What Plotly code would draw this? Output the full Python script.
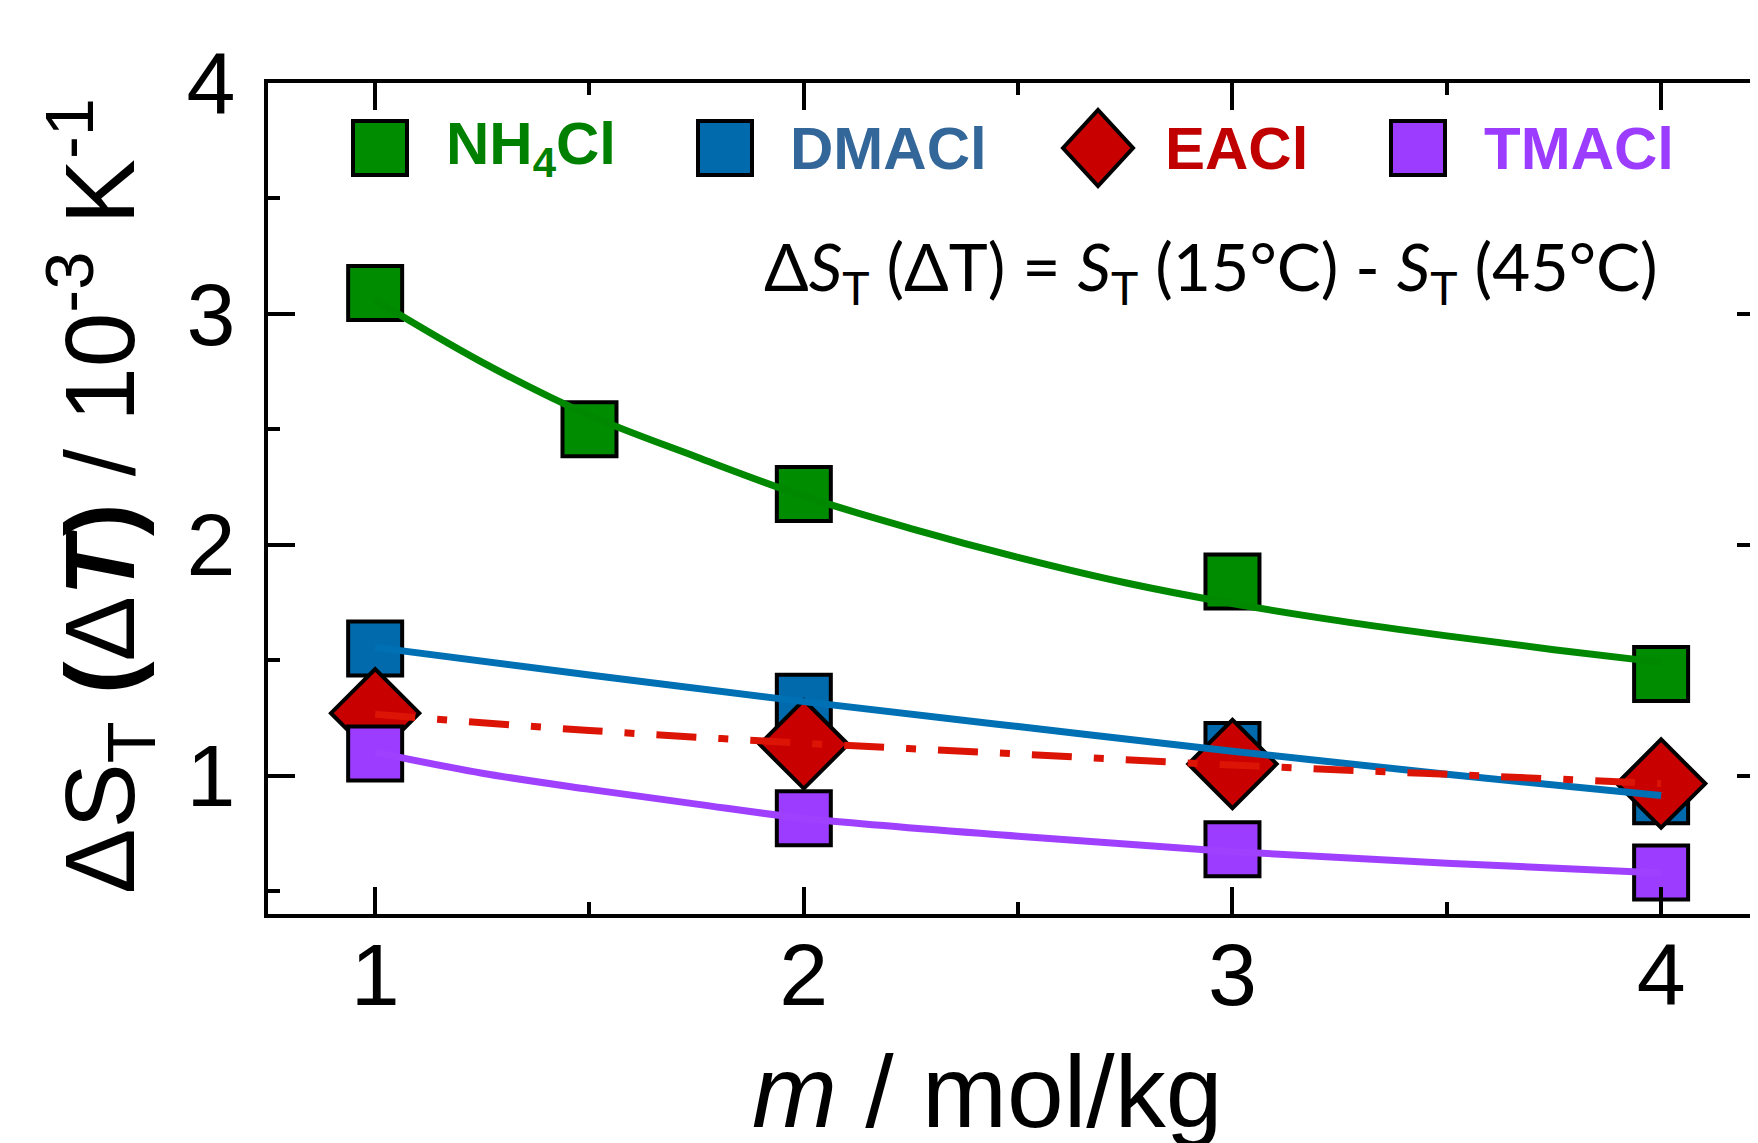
import plotly.graph_objects as go

# ---- data ----
m_nh4 = [1, 1.5, 2, 3, 4]
nh4cl = [3.09, 2.50, 2.22, 1.84, 1.44]
m_salt = [1, 2, 3, 4]
dmacl = [1.55, 1.32, 1.11, 0.91]
eacl = [1.27, 1.135, 1.05, 0.965]
tmacl = [1.095, 0.815, 0.68, 0.58]

# fitted curves
fit_x_nh4 = [1.0, 1.25, 1.5, 1.75, 2.0, 2.25, 2.5, 2.75, 3.0, 3.25, 3.5, 3.75, 4.0]
fit_nh4 = [3.06, 2.79, 2.56, 2.38, 2.21, 2.07, 1.945, 1.835, 1.745, 1.67, 1.605, 1.545, 1.49]
fit_x = [1.0, 1.5, 2.0, 2.5, 3.0, 3.5, 4.0]
fit_dma = [1.555, 1.435, 1.32, 1.212, 1.105, 1.005, 0.913]
fit_ea = [1.265, 1.195, 1.14, 1.093, 1.045, 1.005, 0.965]
fit_x_tma = [1.0, 1.25, 1.5, 1.75, 2.0, 2.5, 3.0, 3.5, 4.0]
fit_tma = [1.10, 1.01, 0.94, 0.876, 0.815, 0.737, 0.67, 0.62, 0.578]

x_ticks = [1, 2, 3, 4]
y_ticks = [1, 2, 3, 4]

names = ["NH<sub>4</sub>Cl", "DMACl", "EACl", "TMACl"]
marker_cols = ["#008C00", "#006AAD", "#C80000", "#9B3CFF"]
line_cols = ["#008800", "#0070B4", "#DC1405", "#A040FF"]
text_cols = ["#008000", "#336699", "#C00000", "#9B3CFF"]

fig = go.Figure()

SQ = 54
DI = 68
mline = dict(color="black", width=4)

# markers (drawn first, lines over them)
fig.add_trace(go.Scatter(x=m_nh4, y=nh4cl, mode="markers",
                         marker=dict(symbol="square", size=SQ, color=marker_cols[0], line=mline)))
fig.add_trace(go.Scatter(x=m_salt, y=dmacl, mode="markers",
                         marker=dict(symbol="square", size=SQ, color=marker_cols[1], line=mline)))
fig.add_trace(go.Scatter(x=m_salt, y=eacl, mode="markers",
                         marker=dict(symbol="diamond", size=DI, color=marker_cols[2], line=mline)))
fig.add_trace(go.Scatter(x=m_salt, y=tmacl, mode="markers",
                         marker=dict(symbol="square", size=SQ, color=marker_cols[3], line=mline)))

# fit lines
LW = 7
fig.add_trace(go.Scatter(x=fit_x_nh4, y=fit_nh4, mode="lines", line=dict(color=line_cols[0], width=LW, shape="spline")))
fig.add_trace(go.Scatter(x=fit_x, y=fit_dma, mode="lines", line=dict(color=line_cols[1], width=LW, shape="spline")))
fig.add_trace(go.Scatter(x=fit_x, y=fit_ea, mode="lines",
                         line=dict(color=line_cols[2], width=LW, shape="spline", dash="40px,22px,10px,22px")))
fig.add_trace(go.Scatter(x=fit_x_tma, y=fit_tma, mode="lines", line=dict(color=line_cols[3], width=LW, shape="spline")))

W, H = 1758, 1143
ml, mr, mt, mb = 260, 2, 75, 237
pw = W - ml - mr
ph = H - mt - mb

def px(xpix):
    return (xpix - ml) / pw

def py(ypix):
    return (H - mb - ypix) / ph

tickfont = dict(family="Liberation Sans, Arial", size=88, color="black")
axis_common = dict(showline=True, linecolor="black", linewidth=4, mirror="ticks",
                   ticks="inside", ticklen=27, tickwidth=4, tickcolor="black",
                   showgrid=False, zeroline=False, tickfont=tickfont, automargin=False)

fig.update_xaxes(range=[0.75, 4.24], tickvals=x_ticks, ticklabelstandoff=-19,
                 minor=dict(dtick=0.5, tick0=0, ticks="inside", ticklen=12, tickwidth=4, tickcolor="black"),
                 **axis_common)
fig.update_yaxes(range=[0.4, 4.0], tickvals=y_ticks, ticklabelstandoff=11,
                 minor=dict(dtick=0.5, tick0=0, ticks="inside", ticklen=12, tickwidth=4, tickcolor="black"),
                 **axis_common)

shapes = []
annotations = []

# manual legend
leg_y = py(140)
sym_x = [372, 717, 1090, 1410]
txt_x = [436, 780, 1155, 1474]
for i in range(4):
    if i == 2:
        shapes.append(dict(type="path", xref="paper", yref="paper",
                           xsizemode="pixel", ysizemode="pixel",
                           xanchor=px(sym_x[i]), yanchor=leg_y,
                           path="M -35,0 L 0,38 L 35,0 L 0,-38 Z",
                           fillcolor=marker_cols[i], line=dict(color="black", width=4)))
    else:
        shapes.append(dict(type="rect", xref="paper", yref="paper",
                           xsizemode="pixel", ysizemode="pixel",
                           xanchor=px(sym_x[i]), yanchor=leg_y,
                           x0=-27, x1=27, y0=-27, y1=27,
                           fillcolor=marker_cols[i], line=dict(color="black", width=4)))
    annotations.append(dict(xref="paper", yref="paper", x=px(txt_x[i]), y=leg_y,
                            xanchor="left", yanchor="middle", showarrow=False,
                            text="<b>" + names[i] + "</b>",
                            font=dict(family="Liberation Sans, Arial", size=60, color=text_cols[i])))

# equation annotation
annotations.append(dict(xref="paper", yref="paper", x=px(1203), y=py(262),
                        xanchor="center", yanchor="middle", showarrow=False,
                        text="Δ<i>S</i><sub>T</sub> (ΔT) = <i>S</i><sub>T</sub> (15°C) - <i>S</i><sub>T</sub> (45°C)",
                        font=dict(family="Lato, Noto Sans", size=66, color="black")))

# axis titles
annotations.append(dict(xref="paper", yref="paper", x=px(92), y=py(488),
                        xanchor="center", yanchor="middle", showarrow=False, textangle=-90,
                        text="ΔS<sub>T</sub> <b>(</b>Δ<b><i>T</i>)</b> / 10<sup>-3</sup> K<sup>-1</sup>",
                        font=dict(family="Liberation Sans, Arial", size=98, color="black")))
annotations.append(dict(xref="paper", yref="paper", x=px(979), y=py(1084),
                        xanchor="center", yanchor="middle", showarrow=False,
                        text="<i>m</i> / mol/kg",
                        font=dict(family="Liberation Sans, Arial", size=102, color="black")))

fig.update_layout(width=W, height=H, margin=dict(l=ml, r=mr, t=mt, b=mb, pad=0),
                  paper_bgcolor="white", plot_bgcolor="white", showlegend=False,
                  shapes=shapes, annotations=annotations)

fig.write_html("out.html")
